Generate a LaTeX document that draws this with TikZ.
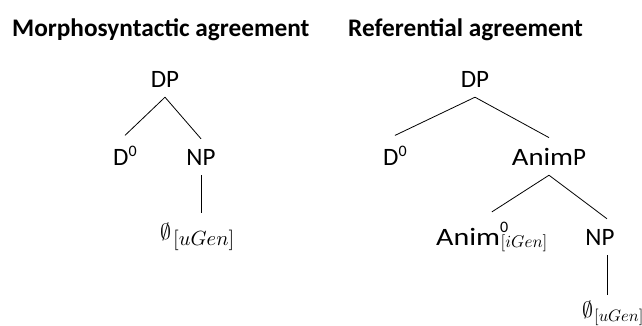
\documentclass[tikz,border=0pt]{standalone}
\usepackage{fontspec}
\usepackage{graphicx}
\setmainfont{Carlito}
% math at an exact size: set at 10pt and scale
\newcommand{\mathat}[2]{{\fontsize{10}{12}\selectfont\scalebox{#1}{$#2$}}}
\newcommand{\supzero}{\raisebox{9pt}{\fontsize{16}{16}\selectfont 0}}
\newcommand{\featA}[1]{\mathat{2.2}{\emptyset}\kern2pt\raisebox{-6pt}{\mathat{2.05}{[#1]}}}
\newcommand{\featB}[1]{\mathat{2.2}{\emptyset}\kern1pt\raisebox{-4pt}{\mathat{1.65}{[#1]}}}
\newcommand{\wideanim}[1]{\scalebox{#1}[1]{Anim}}
\begin{document}
\begin{tikzpicture}[x=1pt,y=1pt,
  treelabel/.style={inner xsep=0pt, inner ysep=10pt, font=\fontsize{25}{30}\selectfont},
  emptylabel/.style={inner sep=0pt, anchor=base west},
  titlelabel/.style={inner sep=0pt, anchor=base west, font=\fontsize{25.3}{30}\selectfont\bfseries},
  branch/.style={line width=0.8pt}]
\useasboundingbox (0,0) rectangle (642,-325);
% titles
\node[titlelabel] (t1) at (12,-36) {Morphosyntactic agreement};
\node[titlelabel] (t2) at (348,-36) {Referential agreement};
% left tree
\node[treelabel, anchor=base] (dpA) at (165,-87) {DP};
\node[treelabel, anchor=base west] (dA) at (113,-165) {D\supzero};
\node[treelabel, anchor=base] (npA) at (201,-165) {NP};
\node[emptylabel] (eA) at (160,-239) {\featA{uGen}};
\draw[branch] (dpA.south) -- (dA.north);
\draw[branch] (dpA.south) -- (npA.north);
\draw[branch] (npA.south) -- ([yshift=9pt]npA.south |- eA.north);
% right tree
\node[treelabel, anchor=base] (dpB) at (475,-87) {DP};
\node[treelabel, anchor=base west] (dB) at (383,-165) {D\supzero};
\node[treelabel, anchor=base] (apB) at (549,-165) {\wideanim{1.15}P};
\node[treelabel, anchor=base west] (anB) at (436,-245)
  {\wideanim{1.2}\rlap{\raisebox{12.5pt}{\fontsize{16}{16}\selectfont 0}}\kern0.5pt\raisebox{-2pt}{\mathat{1.7}{[iGen]}}};
\node[treelabel, anchor=base] (npB) at (600,-245) {NP};
\node[emptylabel] (eB) at (582,-317) {\featB{uGen}};
\draw[branch] (dpB.south) -- (dB.north);
\draw[branch] (dpB.south) -- (apB.north);
\draw[branch] (apB.south) -- (anB.north);
\draw[branch] (apB.south) -- ([xshift=7pt]npB.north);
\draw[branch] ([xshift=7pt]npB.south) -- ([xshift=7pt,yshift=5pt]npB.south |- eB.north);
\end{tikzpicture}
\end{document}
